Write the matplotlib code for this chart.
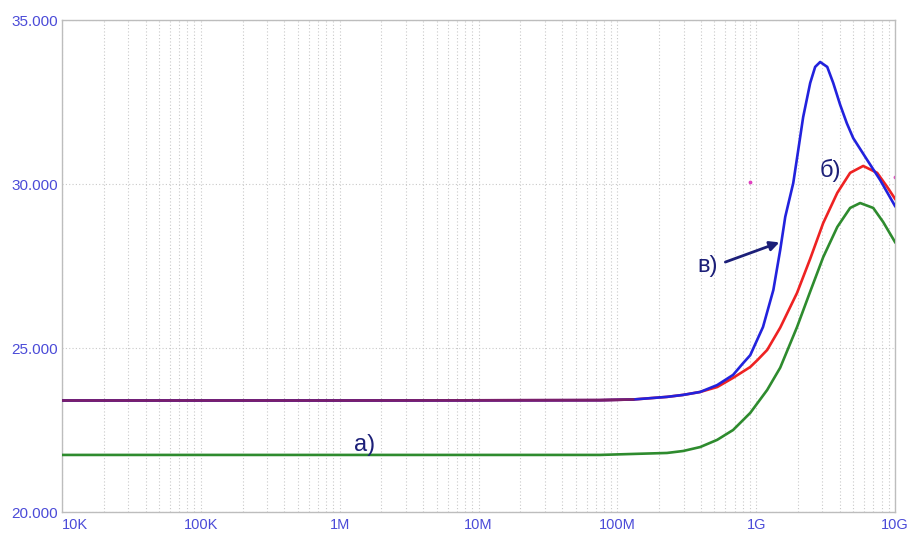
import matplotlib
matplotlib.use('Agg')
import matplotlib.pyplot as plt
from matplotlib.ticker import FixedLocator, LogLocator, NullFormatter

# Frequency response of the three amplifier variants (gain vs. frequency)
freq_a = [1e4, 1e6, 7.5e7, 1.3e8, 2.28e8, 2.98e8, 3.95e8, 5.24e8, 6.82e8, 9.06e8,
          1.2e9, 1.49e9, 1.97e9, 2.45e9, 3.04e9, 3.84e9, 4.75e9, 5.61e9, 6.97e9,
          8.22e9, 1e10]
gain_a = [21.74, 21.74, 21.74, 21.77, 21.80, 21.86, 21.98, 22.20, 22.50, 23.02,
          23.72, 24.40, 25.64, 26.72, 27.77, 28.69, 29.27, 29.42, 29.27,
          28.84, 28.23]

freq_b = [1e4, 1e6, 7.5e7, 1.3e8, 2.28e8, 2.98e8, 3.95e8, 5.24e8, 6.82e8, 9.06e8,
          1.02e9, 1.2e9, 1.49e9, 1.97e9, 2.45e9, 3.04e9, 3.84e9, 4.75e9, 5.9e9,
          7.44e9, 8.79e9, 1e10]
gain_b = [23.40, 23.40, 23.41, 23.43, 23.51, 23.57, 23.66, 23.81, 24.09, 24.42,
          24.63, 24.94, 25.62, 26.68, 27.72, 28.81, 29.73, 30.34, 30.55,
          30.34, 29.91, 29.55]

freq_c = [1e4, 1e6, 7.5e7, 1.3e8, 2.28e8, 2.98e8, 3.95e8, 5.24e8, 6.82e8, 8.06e8,
          9.06e8, 1.12e9, 1.33e9, 1.49e9, 1.62e9, 1.85e9, 2.01e9, 2.18e9, 2.45e9,
          2.66e9, 2.89e9, 3.25e9, 3.59e9, 4.03e9, 4.5e9, 5.0e9, 6.31e9, 7.82e9, 1e10]
gain_c = [23.40, 23.40, 23.41, 23.43, 23.51, 23.57, 23.66, 23.87, 24.18, 24.54,
          24.78, 25.64, 26.77, 27.99, 29.00, 30.03, 31.04, 32.04, 33.08,
          33.57, 33.72, 33.57, 33.08, 32.41, 31.85, 31.40, 30.73, 30.12, 29.33]

x_ticks = [1e4, 1e5, 1e6, 1e7, 1e8, 1e9, 1e10]
x_labels = ['10K', '100K', '1M', '10M', '100M', '1G', '10G']
y_ticks = [20, 25, 30, 35]
y_labels = ['20.000', '25.000', '30.000', '35.000']

# stray cursor marks
mark_f = [9.1e8, 1e10]
mark_g = [30.05, 30.2]

tick_color = '#4b4bd8'
note_color = '#1c1f78'
grid_color = '#c9c9c9'

plt.rcParams['font.family'] = ['Liberation Sans', 'DejaVu Sans']

fig = plt.figure(figsize=(9.1, 5.36), dpi=100)
ax = fig.add_axes([62 / 910, 24 / 536, 833 / 910, 492 / 536])

ax.plot(freq_b, gain_b, color='#ee2222', lw=1.9, zorder=3, solid_joinstyle='round')
ax.plot(freq_c, gain_c, color='#2222dd', lw=1.9, zorder=4, solid_joinstyle='round')
ax.plot(freq_a, gain_a, color='#2e8b2e', lw=1.9, zorder=3, solid_joinstyle='round')
# purple tint where red and blue overlap on the flat part
ax.plot(freq_b[:4], gain_b[:4], color='#7a1f6a', lw=1.9, zorder=5)
ax.scatter(mark_f, mark_g, s=3, color='#e040c0', zorder=2)

ax.set_xscale('log')
ax.set_xlim(1e4, 1e10)
ax.set_ylim(20, 35)

ax.xaxis.set_major_locator(FixedLocator(x_ticks))
ax.set_xticklabels(x_labels)
ax.xaxis.set_minor_locator(LogLocator(base=10, subs=range(2, 10), numticks=100))
ax.xaxis.set_minor_formatter(NullFormatter())
ax.set_yticks(y_ticks)
ax.set_yticklabels(y_labels)

ax.tick_params(axis='both', which='both', length=0, colors=tick_color, pad=4)
ax.tick_params(axis='x', labelsize=10.5)
ax.tick_params(axis='y', labelsize=11, pad=3)
ax.get_xticklabels()[0].set_horizontalalignment('left')

ax.grid(True, which='both', axis='x', linestyle=(0, (1, 2)), color=grid_color, lw=0.8)
ax.grid(True, which='major', axis='y', linestyle=(0, (1, 2)), color=grid_color, lw=0.8)

for s in ax.spines.values():
    s.set_color('#bdbdbd')
    s.set_linewidth(1.0)

ax.text(1.5e6, 22.05, 'а)', fontsize=17, color=note_color, ha='center', va='center')
ax.text(3.4e9, 30.4, 'б)', fontsize=17, color=note_color, ha='center', va='center')
ax.text(4.5e8, 27.5, 'в)', fontsize=17, color=note_color, ha='center', va='center')
ax.annotate('', xy=(1.47e9, 28.22), xytext=(6.0e8, 27.62),
            arrowprops=dict(arrowstyle='-|>', color=note_color, lw=2.0,
                            mutation_scale=14, shrinkA=0, shrinkB=0))

fig.savefig('out.png', dpi=100)
